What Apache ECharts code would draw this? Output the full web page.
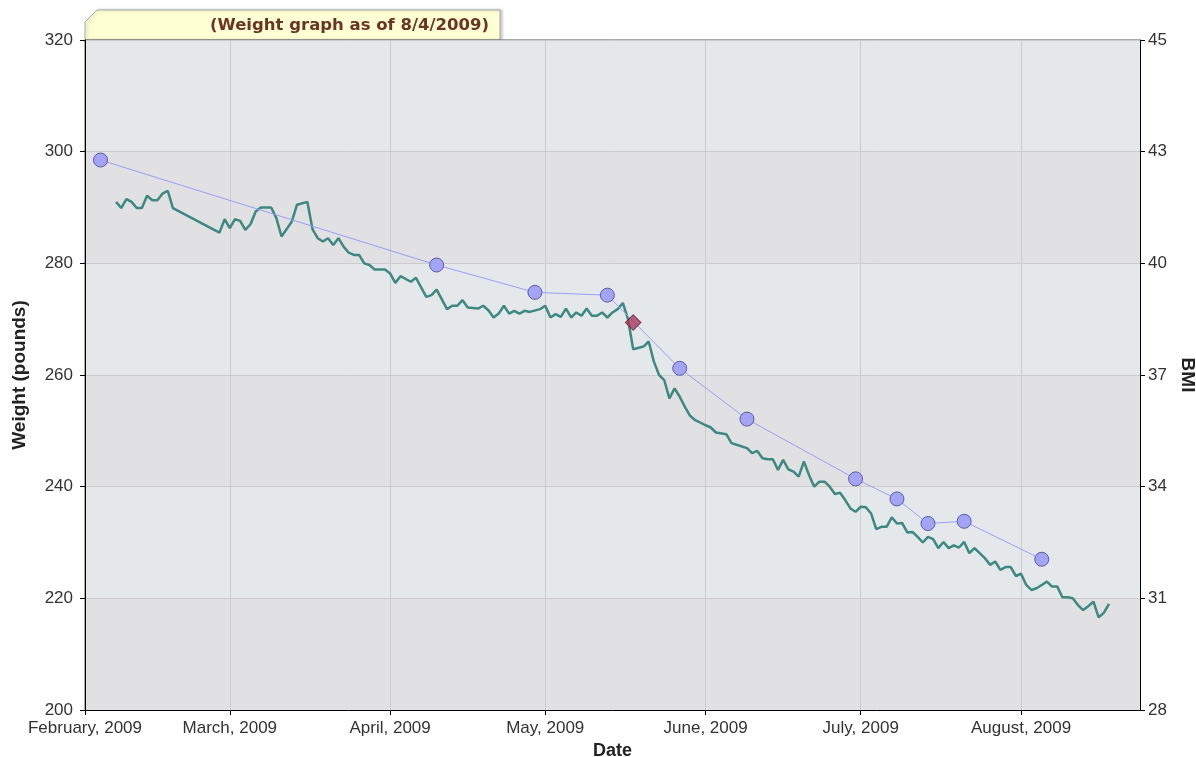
<!DOCTYPE html>
<html>
<head>
<meta charset="utf-8">
<script src="https://cdn.jsdelivr.net/npm/echarts@6/dist/echarts.min.js"></script>
<style>
html, body { margin: 0; padding: 0; background: #fff; }
#weightChart { width: 1196px; height: 757px; }
</style>
</head>
<body>
<div id="weightChart"></div>
<script>
// axis ticks / labels
var monthTicks = ['2009-02-01', '2009-03-01', '2009-04-01', '2009-05-01', '2009-06-01', '2009-07-01', '2009-08-01'];
var monthLabels = ['February, 2009', 'March, 2009', 'April, 2009', 'May, 2009', 'June, 2009', 'July, 2009', 'August, 2009'];
var weightTicks = [200, 220, 240, 260, 280, 300, 320];
var bmiLabels = ['28', '31', '34', '37', '40', '43', '45'];

// daily weight (teal line)
var weightDates = [
  '2009-02-07','2009-02-08','2009-02-09','2009-02-10','2009-02-11','2009-02-12','2009-02-13','2009-02-14','2009-02-15','2009-02-16',
  '2009-02-17','2009-02-18','2009-02-27','2009-02-28','2009-03-01','2009-03-02','2009-03-03','2009-03-04','2009-03-05','2009-03-06',
  '2009-03-07','2009-03-09','2009-03-10','2009-03-11','2009-03-13','2009-03-14','2009-03-16','2009-03-17','2009-03-18','2009-03-19',
  '2009-03-20','2009-03-21','2009-03-22','2009-03-23','2009-03-24','2009-03-25','2009-03-26','2009-03-27','2009-03-28','2009-03-29',
  '2009-03-31','2009-04-01','2009-04-02','2009-04-03','2009-04-05','2009-04-06','2009-04-08','2009-04-09','2009-04-10','2009-04-12',
  '2009-04-13','2009-04-14','2009-04-15','2009-04-16','2009-04-18','2009-04-19','2009-04-20','2009-04-21','2009-04-22','2009-04-23',
  '2009-04-24','2009-04-25','2009-04-26','2009-04-27','2009-04-28','2009-04-30','2009-05-01','2009-05-02','2009-05-03','2009-05-04',
  '2009-05-05','2009-05-06','2009-05-07','2009-05-08','2009-05-09','2009-05-10','2009-05-11','2009-05-12','2009-05-13','2009-05-14',
  '2009-05-15','2009-05-16','2009-05-17','2009-05-18','2009-05-20','2009-05-21','2009-05-22','2009-05-23','2009-05-24','2009-05-25',
  '2009-05-26','2009-05-27','2009-05-28','2009-05-29','2009-05-30','2009-06-01','2009-06-02','2009-06-03','2009-06-05','2009-06-06',
  '2009-06-07','2009-06-09','2009-06-10','2009-06-11','2009-06-12','2009-06-13','2009-06-14','2009-06-15','2009-06-16','2009-06-17',
  '2009-06-18','2009-06-19','2009-06-20','2009-06-21','2009-06-22','2009-06-23','2009-06-24','2009-06-25','2009-06-26','2009-06-27',
  '2009-06-28','2009-06-29','2009-06-30','2009-07-01','2009-07-02','2009-07-03','2009-07-04','2009-07-05','2009-07-06','2009-07-07',
  '2009-07-08','2009-07-09','2009-07-10','2009-07-11','2009-07-12','2009-07-13','2009-07-14','2009-07-15','2009-07-16','2009-07-17',
  '2009-07-18','2009-07-19','2009-07-20','2009-07-21','2009-07-22','2009-07-23','2009-07-24','2009-07-25','2009-07-26','2009-07-27',
  '2009-07-28','2009-07-29','2009-07-30','2009-07-31','2009-08-01','2009-08-02','2009-08-03','2009-08-04','2009-08-05','2009-08-06',
  '2009-08-07','2009-08-08','2009-08-09','2009-08-10','2009-08-11','2009-08-12','2009-08-13','2009-08-14','2009-08-15','2009-08-16',
  '2009-08-17','2009-08-18'
];
var weightLbs = [
  291.0, 289.9, 291.5, 291.0, 289.9, 289.9, 292.1, 291.3, 291.3, 292.5,
  293.0, 289.9, 285.5, 287.9, 286.3, 287.9, 287.6, 286.0, 287.0, 289.3,
  290.0, 290.0, 288.1, 284.8, 287.5, 290.5, 291.0, 286.1, 284.5, 283.9,
  284.5, 283.3, 284.5, 283.0, 281.9, 281.5, 281.5, 280.0, 279.7, 278.9,
  278.9, 278.2, 276.5, 277.7, 276.7, 277.4, 274.0, 274.3, 275.3, 271.8,
  272.4, 272.4, 273.4, 272.1, 271.9, 272.4, 271.6, 270.3, 271.0, 272.4,
  271.0, 271.5, 271.0, 271.5, 271.3, 271.8, 272.4, 270.3, 270.9, 270.4,
  271.9, 270.3, 271.2, 270.6, 271.9, 270.6, 270.6, 271.2, 270.3, 271.2,
  271.8, 272.9, 270.0, 264.6, 265.1, 266.0, 262.4, 260.0, 259.1, 255.8,
  257.6, 256.1, 254.3, 252.7, 251.9, 251.0, 250.6, 249.7, 249.4, 247.8,
  247.5, 246.9, 246.0, 246.4, 245.1, 244.9, 244.9, 243.0, 244.8, 243.1,
  242.7, 241.8, 244.5, 242.1, 240.0, 240.9, 240.9, 240.0, 238.7, 238.9,
  237.6, 236.1, 235.5, 236.4, 236.3, 235.2, 232.4, 232.8, 232.8, 234.5,
  233.4, 233.5, 231.8, 231.9, 231.0, 230.0, 231.0, 230.6, 229.0, 230.1,
  229.0, 229.5, 229.1, 230.1, 228.1, 229.0, 228.1, 227.2, 226.0, 226.6,
  225.1, 225.6, 225.6, 224.0, 224.4, 222.4, 221.5, 221.8, 222.4, 223.0,
  222.1, 222.1, 220.2, 220.2, 220.0, 218.8, 217.9, 218.6, 219.4, 216.6,
  217.4, 219.0
];

// weigh-ins (purple circles)
var weighInDates = ['2009-02-04', '2009-04-10', '2009-04-29', '2009-05-13', '2009-05-27', '2009-06-09',
                    '2009-06-30', '2009-07-08', '2009-07-14', '2009-07-21', '2009-08-05'];
var weighInLbs = [298.5, 279.7, 274.8, 274.3, 261.2, 252.1, 241.4, 237.8, 233.4, 233.8, 227.0];

// highlighted point (red diamond)
var markDates = ['2009-05-18'];
var markLbs = [269.4];

var axisFont = '"Liberation Sans", Arial, sans-serif';

function toTime(s) {
    return new Date(s + 'T00:00:00').getTime();
}
var monthTimes = monthTicks.map(toTime);

var myChart = echarts.init(document.getElementById('weightChart'));

myChart.setOption({
    animation: false,
    backgroundColor: '#fff',
    title: {
        text: '(Weight graph as of 8/4/2009)',
        right: 707,
        top: 17,
        padding: 0,
        textStyle: {
            color: '#6b3526',
            fontSize: 16.5,
            fontWeight: 'bold',
            fontFamily: '"DejaVu Sans", Verdana, sans-serif'
        }
    },
    // the yellow tab behind the title
    graphic: [{
        type: 'polygon',
        z: -10,
        shape: { points: [[85, 40], [85, 22], [97, 10], [500, 10], [500, 40]] },
        style: {
            fill: '#ffffd4',
            stroke: '#a8a8a8',
            lineWidth: 1,
            shadowBlur: 3,
            shadowOffsetX: 2,
            shadowColor: 'rgba(0,0,0,0.2)'
        }
    }],
    grid: {
        left: 85,
        right: 56,
        top: 40,
        bottom: 47,
        outerBoundsMode: 'none',
        containLabel: false,
        show: true,
        borderColor: '#555',
        backgroundColor: 'transparent'
    },
    // dates are plotted as timestamps on a value axis, month starts as custom ticks
    xAxis: {
        type: 'value',
        min: toTime('2009-02-01'),
        max: toTime('2009-08-24'),
        name: 'Date',
        nameLocation: 'middle',
        nameGap: 27,
        nameTextStyle: { color: '#222', fontSize: 18, fontWeight: 'bold', fontFamily: axisFont },
        axisLine: { show: true, lineStyle: { color: '#000' } },
        axisTick: { show: true, length: 5, customValues: monthTimes, lineStyle: { color: '#000' } },
        axisLabel: {
            customValues: monthTimes,
            color: '#333',
            fontSize: 17,
            fontFamily: axisFont,
            margin: 10,
            formatter: function (v) {
                for (var i = 0; i < monthTimes.length; i++) {
                    if (Math.abs(monthTimes[i] - v) < 3600000) return monthLabels[i];
                }
                return '';
            }
        },
        splitLine: { show: true, lineStyle: { color: '#cccccc' } }
    },
    yAxis: [{
        type: 'value',
        position: 'left',
        min: weightTicks[0],
        max: weightTicks[weightTicks.length - 1],
        interval: 20,
        name: 'Weight (pounds)',
        nameLocation: 'middle',
        nameGap: 56,
        nameTextStyle: { color: '#222', fontSize: 19, fontWeight: 'bold', fontFamily: axisFont },
        axisLine: { show: true, lineStyle: { color: '#000' } },
        axisTick: { show: true, length: 5, lineStyle: { color: '#000' } },
        axisLabel: { color: '#333', fontSize: 17, fontFamily: axisFont, margin: 12 },
        splitLine: { show: true, lineStyle: { color: '#cccccc' } },
        splitArea: { show: true, areaStyle: { color: ['#e1e1e3', '#e5e8eb'] } }
    }, {
        type: 'value',
        position: 'right',
        min: weightTicks[0],
        max: weightTicks[weightTicks.length - 1],
        interval: 20,
        name: 'BMI',
        nameLocation: 'middle',
        nameGap: 38,
        nameRotate: -90,
        nameTextStyle: { color: '#222', fontSize: 19, fontWeight: 'bold', fontFamily: axisFont },
        axisLine: { show: true, lineStyle: { color: '#000' } },
        axisTick: { show: true, length: 5, lineStyle: { color: '#000' } },
        axisLabel: {
            color: '#333',
            fontSize: 17,
            fontFamily: axisFont,
            margin: 8,
            formatter: function (v) {
                var i = weightTicks.indexOf(v);
                return i >= 0 ? bmiLabels[i] : '';
            }
        },
        splitLine: { show: false }
    }],
    series: [{
        name: 'Weight',
        type: 'line',
        showSymbol: false,
        z: 2,
        lineStyle: { color: '#3d8880', width: 2.5 },
        itemStyle: { color: '#3d8880' },
        data: weightDates.map(function (d, i) { return [toTime(d), weightLbs[i]]; })
    }, {
        name: 'Weigh-in',
        type: 'line',
        symbol: 'circle',
        symbolSize: 14,
        z: 3,
        lineStyle: { color: '#9c9cfa', width: 1 },
        itemStyle: { color: '#a4a4f6', borderColor: '#5b5ba2', borderWidth: 1 },
        data: weighInDates.map(function (d, i) { return [toTime(d), weighInLbs[i]]; })
    }, {
        name: 'Mark',
        type: 'scatter',
        symbol: 'rect',
        symbolSize: 11,
        symbolRotate: 45,
        z: 4,
        itemStyle: { color: '#a63b5c', borderColor: '#6b2038', borderWidth: 1 },
        data: markDates.map(function (d, i) { return [toTime(d), markLbs[i]]; })
    }]
});
</script>
</body>
</html>
